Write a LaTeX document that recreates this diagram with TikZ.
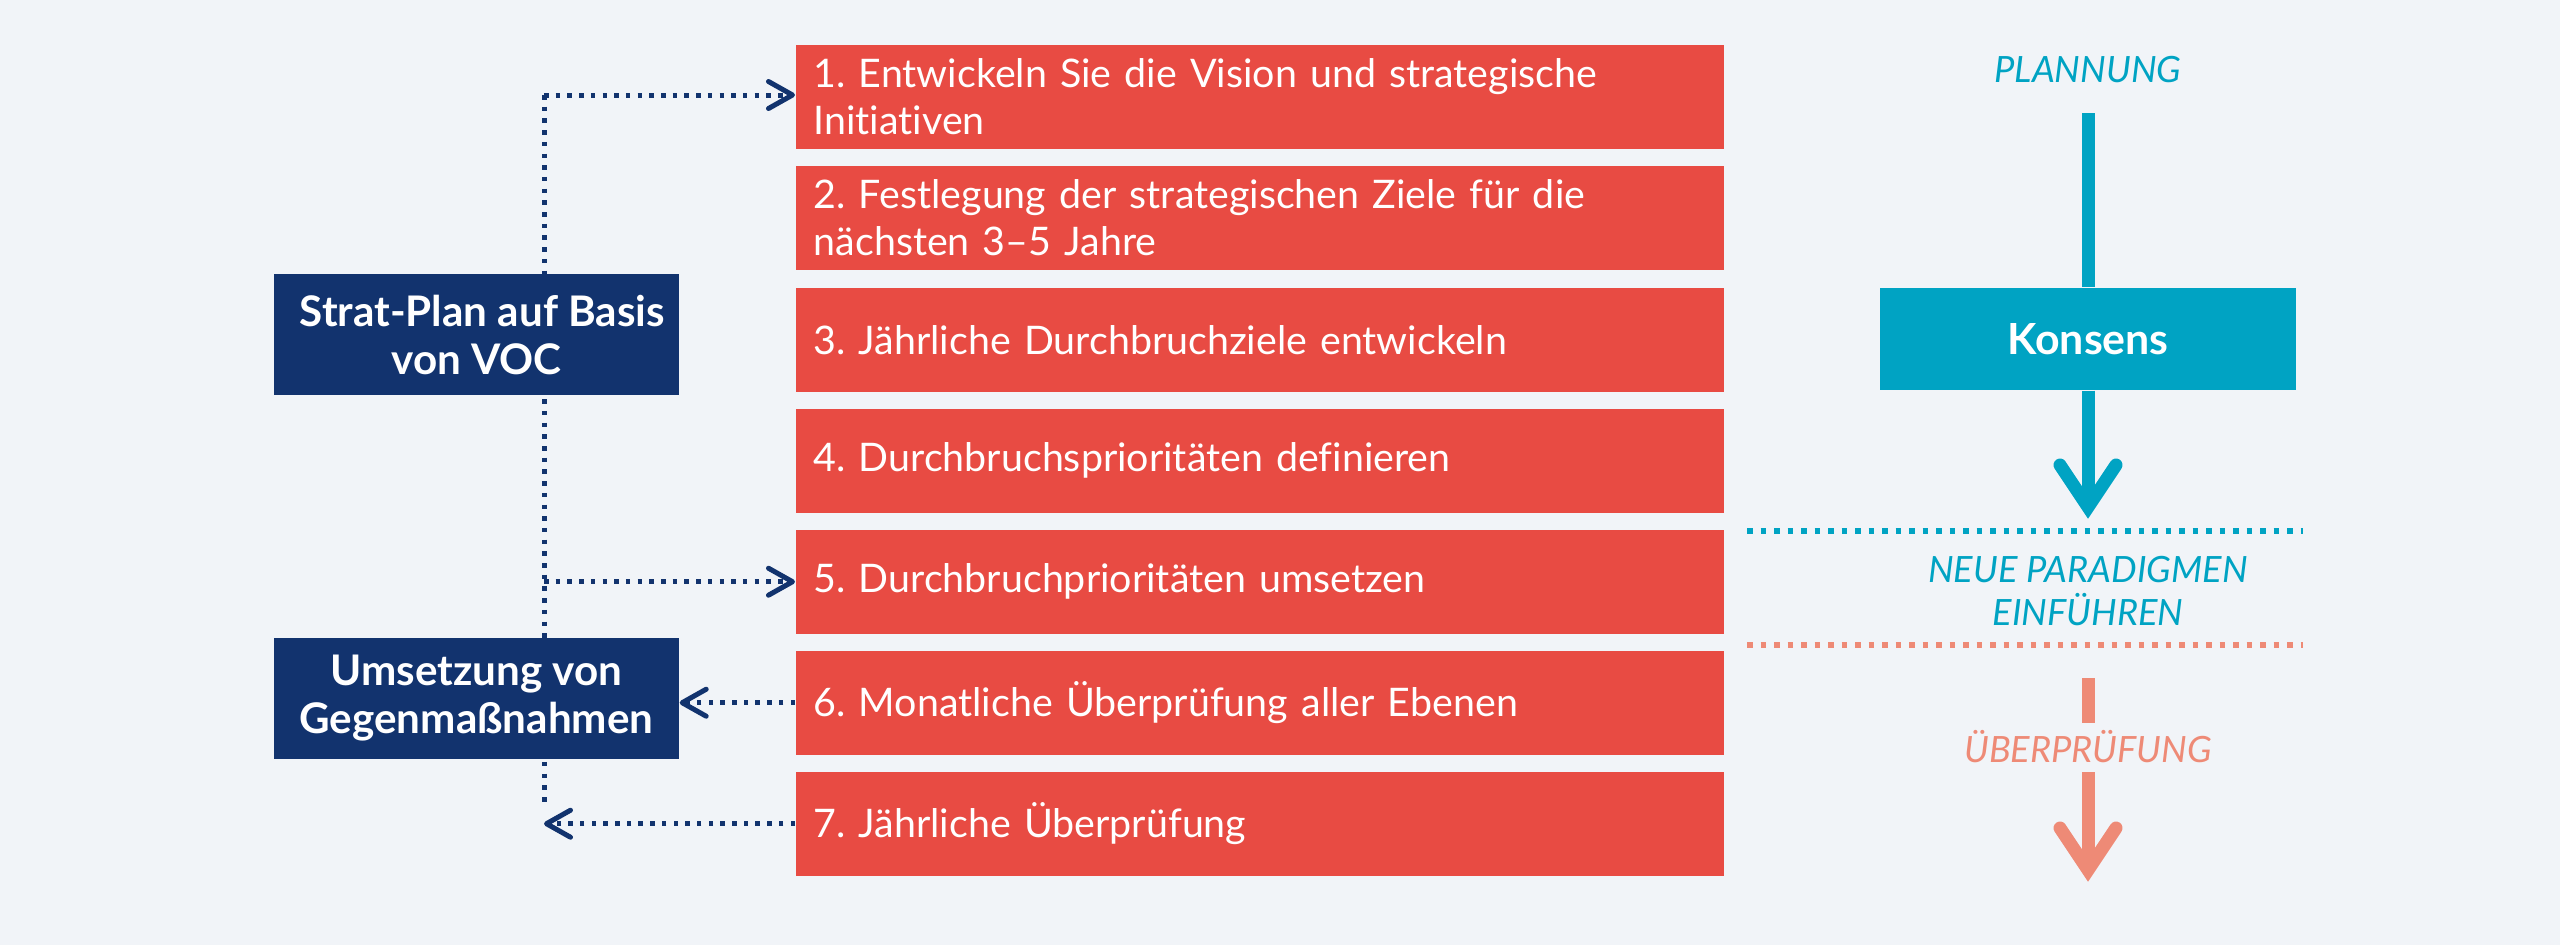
\documentclass[tikz,border=0pt]{standalone}
\usepackage{fontspec}
\setmainfont{Lato}
\newfontfamily\latofont{Lato}[Ligatures=NoCommon]
\usetikzlibrary{arrows.meta}
\definecolor{bgc}{HTML}{F1F4F8}
\definecolor{redc}{HTML}{E84B43}
\definecolor{navyc}{HTML}{12336E}
\definecolor{tealc}{HTML}{00A3C3}
\definecolor{salmc}{HTML}{EE8A76}
\frenchspacing
\tikzset{
  redbox/.style={fill=redc, text=white, anchor=north west, minimum width=92.8mm,
    minimum height=10.4mm, text width=89.2mm, inner xsep=1.8mm, inner ysep=0pt,
    align=left, font=\latofont\fontsize{11.2}{13.4}\selectfont},
  navybox/.style={fill=navyc, text=white, minimum width=40.5mm, minimum height=12.1mm,
    inner sep=0pt, align=center, font=\latofont\bfseries\fontsize{12}{13.66}\selectfont},
  tealbox/.style={fill=tealc, text=white, minimum width=41.6mm, minimum height=10.2mm,
    inner sep=0pt, font=\latofont\bfseries\fontsize{12.2}{13.66}\selectfont},
  navydot/.style={draw=navyc, line width=0.5mm, dash pattern=on 0.45mm off 0.72mm},
  navytip/.style={-{Straight Barb[length=2.4mm,width=2.7mm,line width=0.5mm,round]}},
  tealdot/.style={draw=tealc, line width=0.6mm, dash pattern=on 0.55mm off 0.8mm},
  salmdot/.style={draw=salmc, line width=0.6mm, dash pattern=on 0.55mm off 0.8mm},
  bigline/.style={line width=1.3mm},
  chevron/.style={line width=1.3mm, line cap=round, line join=miter},
  lbl/.style={inner sep=0pt, align=center, font=\latofont\itshape\fontsize{10.3}{12.2}\selectfont},
}
\begin{document}
\begin{tikzpicture}[x=0.1mm,y=-0.1mm]
\fill[bgc] (0,0) rectangle (2560,945);
\useasboundingbox (0,0) rectangle (2560,945);

% left dotted spine
\coordinate (top) at (544,95);
\coordinate (bot) at (544,808);
\draw[navydot] (top) -- (bot);

% red step boxes
\node[redbox] (b1) at (795,44)  {1. Entwickeln Sie die Vision und strategische\\Initiativen};
\node[redbox] (b2) at (795,165) {2. Festlegung der strategischen Ziele für die\\nächsten 3–5 Jahre};
\node[redbox] (b3) at (795,287) {3. Jährliche Durchbruchziele entwickeln};
\node[redbox] (b4) at (795,408) {4. Durchbruchsprioritäten definieren};
\node[redbox] (b5) at (795,529) {5. Durchbruchprioritäten umsetzen};
\node[redbox] (b6) at (795,650) {6. Monatliche Überprüfung aller Ebenen};
\node[redbox] (b7) at (795,771) {7. Jährliche Überprüfung};

% navy boxes
\node[navybox] (sa) at (476.5,334.5) {\hspace*{1.2mm}Strat-Plan auf Basis\\von VOC};
\node[navybox] (sb) at (476.5,698.5) {Umsetzung von\\Gegenmaßnahmen};

% navy arrows
\draw[navydot,navytip] (top) -- (b1.west |- top);
\draw[navydot,navytip] (b5.west -| top) -- (b5.west);
\draw[navydot,navytip] (b6.west) -- (b6.west -| sb.east);
\draw[navydot,navytip] (b7.west) -- (b7.west -| bot);

% right column: planning
\node[lbl, text=tealc] (plan) at (2088,70) {PLANNUNG};
\coordinate (pt) at (2088,113);
\node[tealbox] (kons) at (2088,339) {Konsens};
\coordinate (ttip) at (2088,507);
\draw[tealc,bigline] (pt) -- (kons.north);
\draw[tealc,bigline] (kons.south) -- (ttip);
\draw[tealc,chevron] (2060,465) -- (ttip) -- (2116,465);

% dotted separators
\coordinate (tl) at (1747,531);
\coordinate (tr) at (2303,531);
\draw[tealdot] (tl) -- (tr);
\node[lbl, text=tealc] (neu) at (2088,591) {NEUE PARADIGMEN\\EINFÜHREN};
\coordinate (sl) at (1747,645);
\coordinate (sr) at (2303,645);
\draw[salmdot] (sl) -- (sr);

% review arrow
\coordinate (s1) at (2088,678);
\coordinate (s2) at (2088,723);
\draw[salmc,bigline] (s1) -- (s2);
\node[lbl, text=salmc] (ueb) at (2088,747) {ÜBERPRÜFUNG};
\coordinate (s3) at (2088,772);
\coordinate (stip) at (2088,870);
\draw[salmc,bigline] (s3) -- (stip);
\draw[salmc,chevron] (2060,828) -- (stip) -- (2116,828);
\end{tikzpicture}
\end{document}
